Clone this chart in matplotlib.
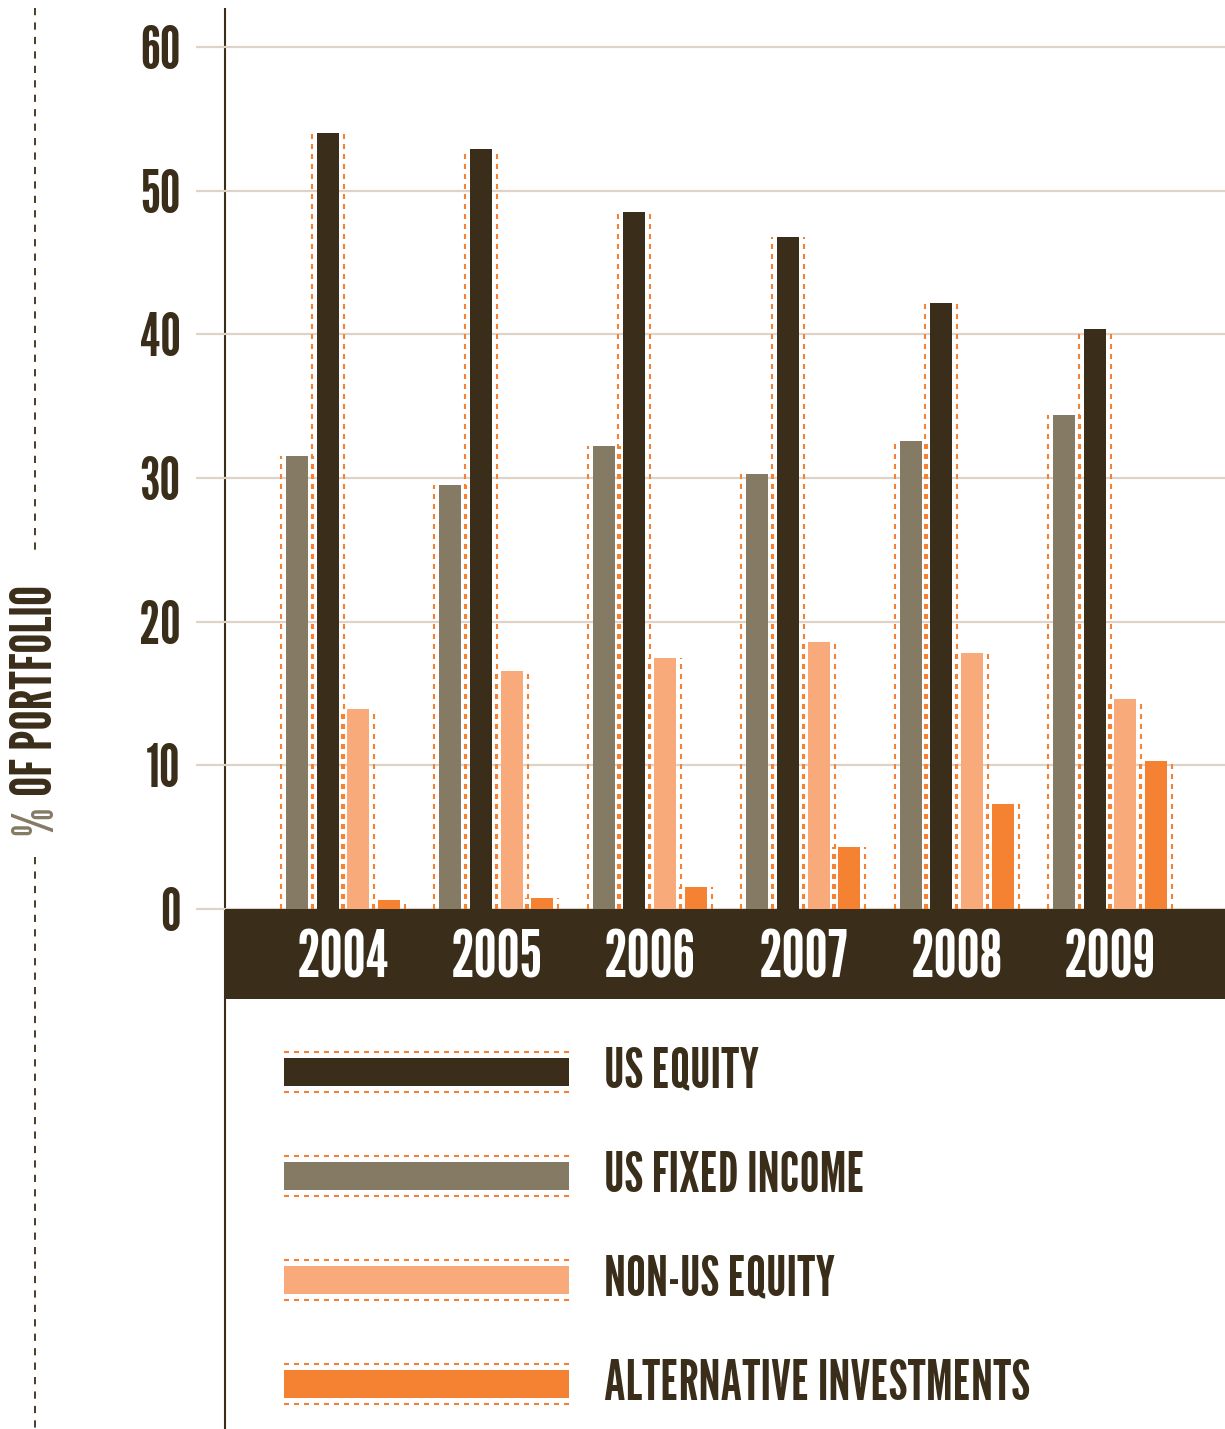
import matplotlib
matplotlib.use("Agg")
import matplotlib.pyplot as plt
from matplotlib import font_manager
from matplotlib.patches import Rectangle

# ---------------- data ----------------
years = ['2004', '2005', '2006', '2007', '2008', '2009']
us_fixed_income = [31.5, 29.5, 32.2, 30.3, 32.6, 34.4]
us_equity = [54.0, 52.9, 48.5, 46.8, 42.2, 40.4]
non_us_equity = [13.9, 16.6, 17.5, 18.6, 17.8, 14.6]
alternative = [0.6, 0.8, 1.5, 4.3, 7.3, 10.3]
series_names = ['US EQUITY', 'US FIXED INCOME', 'NON-US EQUITY', 'ALTERNATIVE INVESTMENTS']
y_ticks = [0, 10, 20, 30, 40, 50, 60]
y_label_pct = '%'
y_label_rest = 'OF PORTFOLIO'

# ---------------- style ----------------
DARK = '#3a2e1b'
GREY = '#857a63'
PEACH = '#f8aa7a'
ORANGE = '#f58232'
GRID = '#ddd3c6'

avail = set(f.name for f in font_manager.fontManager.ttflist)
FONT = 'DejaVu Sans'
for cand in ['League Gothic', 'Oswald', 'Bebas Neue', 'Antonio', 'Fjalla One',
             'Pathway Gothic One', 'Barlow Condensed', 'DejaVu Sans']:
    if cand in avail:
        FONT = cand
        break
plt.rcParams['font.family'] = [FONT, 'DejaVu Sans']

W, H = 1225, 1429
fig = plt.figure(figsize=(W / 100, H / 100), dpi=100)

# pixel geometry of main axes
ax_left, ax_right, ax_top, ax_bot = 196, 1225, 8, 999
x0_px, unit_x = 343, 153.4
y0_px, unit_y = 909, 14.367

ax = fig.add_axes([ax_left / W, (H - ax_bot) / H, (ax_right - ax_left) / W, (ax_bot - ax_top) / H])
ax.patch.set_alpha(0)
ax.set_xlim((ax_left - x0_px) / unit_x, (ax_right - x0_px) / unit_x)
ax.set_ylim((y0_px - ax_bot) / unit_y, (y0_px - ax_top) / unit_y)
for s in ax.spines.values():
    s.set_visible(False)
ax.set_xticks([])
ax.set_yticks(y_ticks)
ax.set_yticklabels([str(t) for t in y_ticks], fontsize=42, color=DARK, fontweight='bold')
ax.tick_params(axis='y', length=0, pad=11)
ax.yaxis.grid(True, color=GRID, lw=1.6)
ax.set_axisbelow(True)

# band behind year labels
band_left = (225 - x0_px) / unit_x
ax.add_patch(Rectangle((band_left, ax.get_ylim()[0]), ax.get_xlim()[1] - band_left,
                       -ax.get_ylim()[0], color=DARK, zorder=3, lw=0))

xs = list(range(len(years)))
series = [us_fixed_income, us_equity, non_us_equity, alternative]
colors = [GREY, DARK, PEACH, ORANGE]
offsets = [-0.3, -0.1, 0.1, 0.3]
bw = 0.143
dash_off = bw / 2 + 5 / unit_x
for vals, c, off in zip(series, colors, offsets):
    pos = [x + off for x in xs]
    ax.bar(pos, vals, width=bw, color=c, zorder=4, lw=0)
    for side in (-1, 1):
        ax.vlines([p + side * dash_off for p in pos], 0, vals, colors=ORANGE,
                  lw=1.5, linestyles=(0, (2.4, 2.4)), zorder=4)

for x, yr in zip(xs, years):
    ax.text(x, (y0_px - 959) / unit_y, yr, ha='center', va='center', color='white',
            fontsize=47, fontweight='bold', zorder=5)

# ---------------- overlay (pixel coords) ----------------
ov = fig.add_axes([0, 0, 1, 1], zorder=-1)
ov.set_xlim(0, W)
ov.set_ylim(H, 0)
ov.axis('off')
ov.patch.set_alpha(0)

# main vertical axis line
ov.plot([225, 225], [8, H], color=DARK, lw=1.5, solid_capstyle='butt')

# left dashed line with label
ov.plot([35, 35], [8, 552], color=DARK, lw=1.3, linestyle=(0, (4, 4)))
ov.plot([35, 35], [857, H], color=DARK, lw=1.3, linestyle=(0, (4, 4)))
ov.text(37, 806, y_label_pct, rotation=90, ha='center', va='top', color=GREY,
        fontsize=41, fontweight='bold')
ov.text(37, 796, y_label_rest, rotation=90, ha='center', va='bottom', color=DARK,
        fontsize=41, fontweight='bold')

# legend
leg_colors = [DARK, GREY, PEACH, ORANGE]
for i, (name, c) in enumerate(zip(series_names, leg_colors)):
    top = 1058 + i * 104
    ov.add_patch(Rectangle((284, top), 285, 28, color=c, lw=0))
    for yy in (top - 6, top + 34):
        ov.plot([284, 569], [yy, yy], color=ORANGE, lw=1.5, linestyle=(0, (2.4, 2.4)))
    ov.text(604, top + 14, name, ha='left', va='center', color=DARK,
            fontsize=40, fontweight='bold')

fig.savefig("out.png", dpi=100)
